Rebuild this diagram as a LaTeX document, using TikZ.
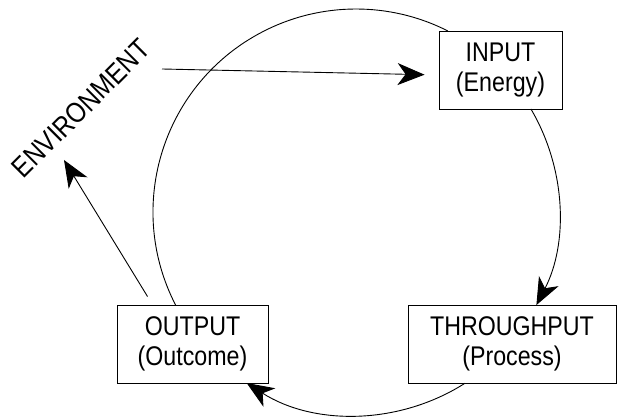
\documentclass[tikz,border=0pt]{standalone}
\usepackage{fontspec}
\newfontfamily\chartfont{Liberation Sans}[FakeStretch=0.86]
\usetikzlibrary{arrows.meta}

\begin{document}
\begin{tikzpicture}[x=1pt, y=1pt, line width=0.9pt]
		\tikzstyle{stage} = [rectangle, draw, align=center, inner sep=0pt, minimum height=78pt, font=\chartfont\fontsize{27}{30.5}\selectfont]
		\tikzstyle{connector} = [draw, -{Stealth[length=27pt, width=22pt, inset=8pt]}]
		\useasboundingbox (0,0) rectangle (617,417);
		\coordinate (hub) at (356,205);
		\node [stage, minimum width=123pt] at (500.5,347) (inp) {INPUT\\(Energy)};
		\node [stage, minimum width=208pt] at (512,73) (thru) {THROUGHPUT\\(Process)};
		\node [stage, minimum width=151pt] at (192.5,73) (out) {OUTPUT\\(Outcome)};
		\node [font=\chartfont\fontsize{28.5}{30}\selectfont, rotate=45] at (81,308.5) (env) {ENVIRONMENT};
		\coordinate (src) at (162,348);
		\coordinate (back) at (64,257);
		% the cycle round the hub
		\draw ([shift={(207.3:203)}]hub) arc[start angle=207.3, end angle=63.1, radius=203];
		\path [connector] ([shift={(30.5:203)}]hub) arc[start angle=30.5, end angle=-27.3, radius=203];
		\path [connector] ([shift={(-57.5:203)}]hub) arc[start angle=-57.5, end angle=-122.6, radius=203];
		% to and from the environment
		\path [connector, shorten >=14pt] (src) -- ([yshift=-5pt]inp.west);
		\path [connector] ([xshift=31pt, yshift=8pt]out.north west) -- (back);
	\end{tikzpicture}
\end{document}
